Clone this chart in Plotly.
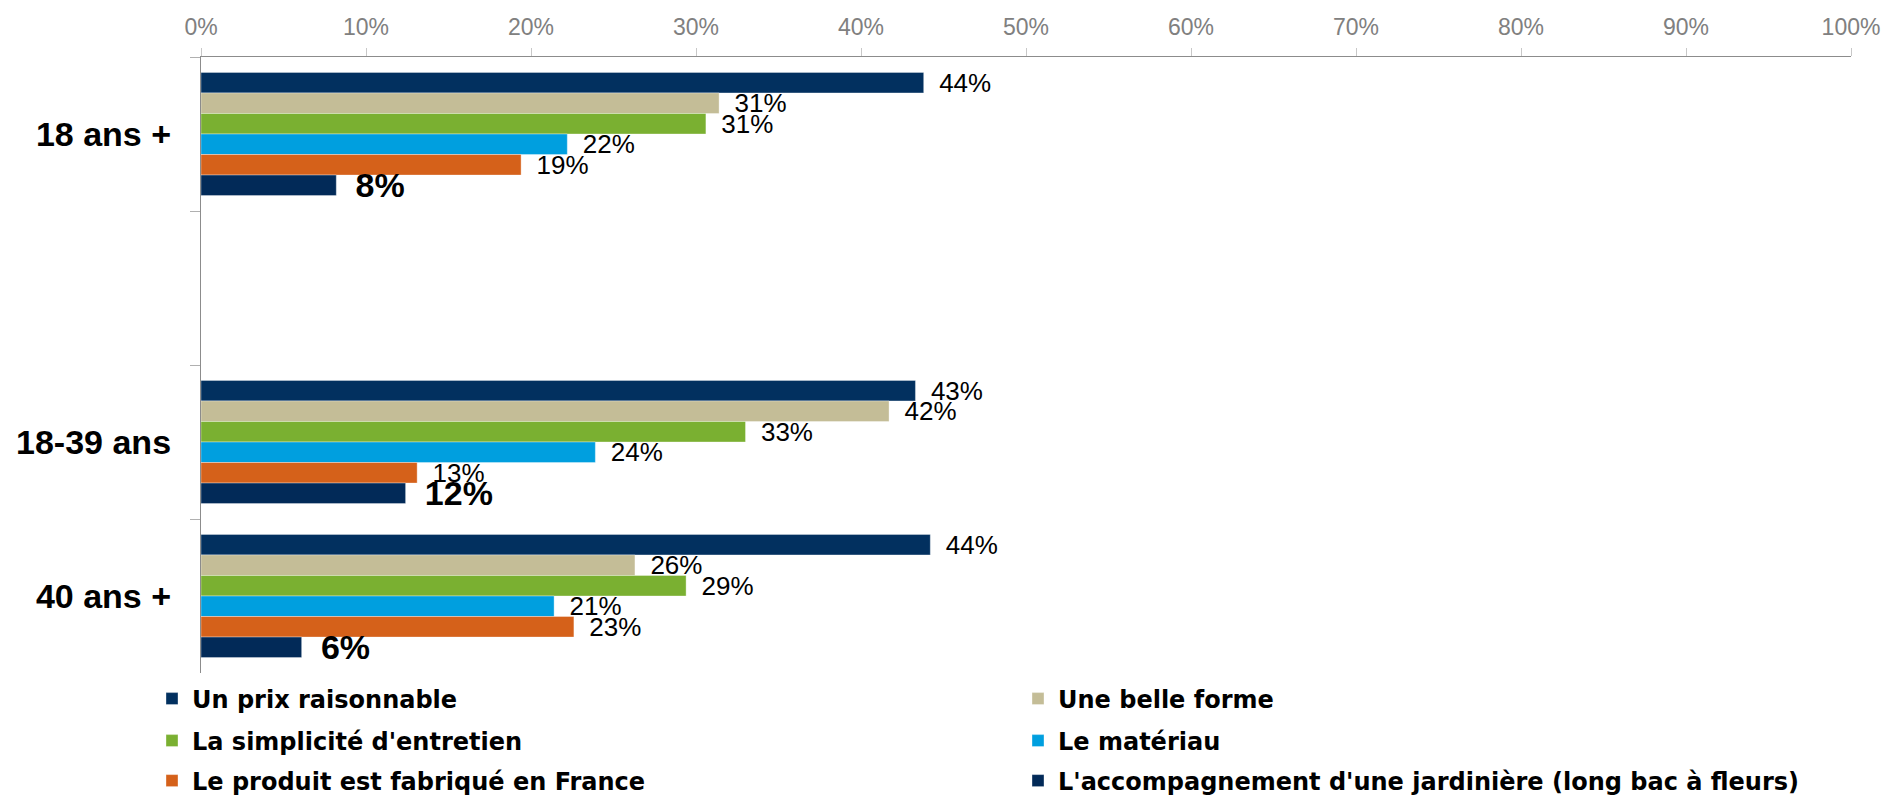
import plotly.graph_objects as go

# ---- data ----
categories = ["18 ans +", " ", "18-39 ans", "40 ans +"]
data_categories = ["18 ans +", "18-39 ans", "40 ans +"]

series_names = [
    "Un prix raisonnable",
    "Une belle forme",
    "La simplicité d'entretien",
    "Le matériau",
    "Le produit est fabriqué en France",
    "L'accompagnement d'une jardinière (long bac à fleurs)",
]
prix_raisonnable = [43.8, 43.3, 44.2]
belle_forme = [31.4, 41.7, 26.3]
simplicite_entretien = [30.6, 33.0, 29.4]
materiau = [22.2, 23.9, 21.4]
fabrique_france = [19.4, 13.1, 22.6]
jardiniere = [8.2, 12.4, 6.1]
series_values = [prix_raisonnable, belle_forme, simplicite_entretien,
                 materiau, fabrique_france, jardiniere]

tick_values = [0, 10, 20, 30, 40, 50, 60, 70, 80, 90, 100]
tick_labels = ["0%", "10%", "20%", "30%", "40%", "50%", "60%", "70%", "80%", "90%", "100%"]

# ---- styles ----
colors = ["#02305F", "#C4BD97", "#7AB031", "#009FDF", "#D5611A", "#022A58"]
OFF = 8  # page body margin
W, H = 1890 - OFF, 795 - OFF
ML = 201 - OFF
MT = 57 - OFF
PLOT_R = 1851 - OFF
PLOT_B = 673 - OFF
MR = W - PLOT_R
MB = H - PLOT_B
PW = W - ML - MR
PH = H - MT - MB

def px_x(px):  # page px -> paper
    return (px - OFF - ML) / PW

def px_y(py):  # page px -> paper
    return (H - MB - (py - OFF)) / PH

fig = go.Figure()
legend_ids = ["legend", "legend2", "legend3", "legend4", "legend5", "legend6"]
for i, (name, vals, col) in enumerate(zip(series_names, series_values, colors)):
    last = i == len(series_names) - 1
    fig.add_trace(go.Bar(
        name=name,
        y=data_categories,
        x=vals,
        orientation="h",
        marker=dict(color=col, line=dict(color="rgba(255,255,255,0.35)", width=1)),
        texttemplate="\u00a0\u2009%{x:.0f}%",
        textposition="outside",
        constraintext="none",
        cliponaxis=False,
        textfont=dict(family="Liberation Sans, Arial, sans-serif",
                      size=34 if last else 26,
                      color="black",
                      weight="bold" if last else "normal"),
        legend=legend_ids[i],
        hoverinfo="x+y+name",
    ))

layout_legends = {}
col_x = [px_x(152), px_x(1018)]
row_y = [px_y(699), px_y(741), px_y(781)]
for i, lid in enumerate(legend_ids):
    layout_legends[lid] = dict(
        x=col_x[i % 2], y=row_y[i // 2],
        xanchor="left", yanchor="middle",
        orientation="h",
        bgcolor="rgba(0,0,0,0)",
        font=dict(family="DejaVu Sans, sans-serif", size=24, color="black", weight="bold"),
        itemclick=False, itemdoubleclick=False,
    )

fig.update_layout(
    width=W, height=H,
    margin=dict(l=ML, r=MR, t=MT, b=MB, autoexpand=False),
    paper_bgcolor="white", plot_bgcolor="white",
    barmode="group", bargap=0.2, bargroupgap=0,
    showlegend=True,
    **layout_legends,
    xaxis=dict(
        side="top", range=[0, 100], tickvals=tick_values, ticktext=tick_labels,
        showgrid=False, zeroline=False,
        showline=True, linecolor="#8C8C8C", linewidth=1.3,
        ticks="outside", ticklen=8, tickcolor="#C8C8C8", tickwidth=1,
        tickfont=dict(family="Liberation Sans, Arial, sans-serif", size=23, color="#808080"),
        ticklabelstandoff=4,
        fixedrange=True,
    ),
    yaxis=dict(
        type="category", categoryorder="array", categoryarray=categories,
        range=[3.5, -0.5],
        showgrid=False, zeroline=False,
        showline=True, linecolor="#8C8C8C", linewidth=1.3,
        ticks="outside", ticklen=10, tickcolor="#B0B0B0", tickwidth=1,
        tickson="boundaries",
        tickfont=dict(family="Liberation Sans, Arial, sans-serif", size=34, color="black", weight="bold"),
        ticklabelstandoff=22,
        fixedrange=True,
    ),
    shapes=[dict(type="circle", xref="paper", yref="paper",
                 x0=px_x(1886), x1=px_x(1926), y0=px_y(779), y1=px_y(739),
                 fillcolor="#02305F", line=dict(width=0), layer="above")],
)

fig.write_html("out.html")
